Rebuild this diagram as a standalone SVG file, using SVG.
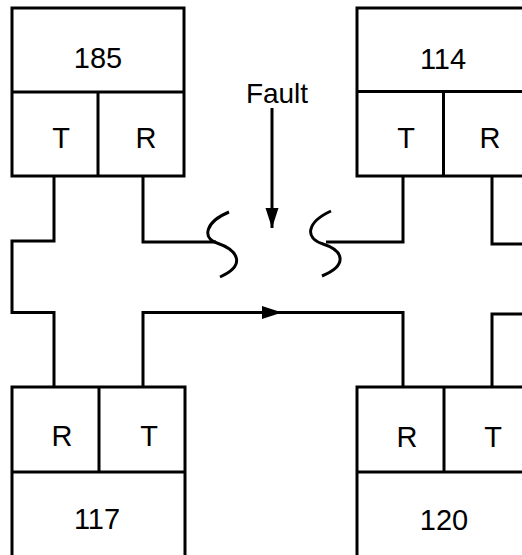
<svg xmlns="http://www.w3.org/2000/svg" width="522" height="555" viewBox="0 0 522 555">
<defs>
<style>
.box{fill:#fff;stroke:#000;stroke-width:3}
.ln{fill:none;stroke:#000;stroke-width:3}
.w{fill:none;stroke:#000;stroke-width:3;stroke-linejoin:miter}
text{font-family:"Liberation Sans",Arial,sans-serif;font-size:29px;fill:#000;text-anchor:middle}
</style>
<marker id="ah" markerUnits="userSpaceOnUse" markerWidth="20" markerHeight="14" refX="20" refY="7" orient="auto">
<path d="M0,0.5 L20,7 L0,13.5 Z" fill="#000"/>
</marker>
</defs>
<rect width="522" height="555" fill="#fff"/>
<g id="connectors">
<path class="w" d="M54,176 V241 H12 V312.5 H54 V387"/>
<path class="w" d="M143,176 V242 H216"/>
<path class="w" d="M403,176 V242 H326"/>
<path class="w" d="M492,176 V244 H524"/>
<path class="w" d="M143,387 V312.5 H403 V387"/>
<path class="w" d="M492,387 V314 H524"/>
<path class="ln" d="M262,312.5 L282,312.5" marker-end="url(#ah)"/>
<path class="ln" d="M229,212 C205,222 202,238 217,243 C240,251 245,266 220,277"/>
<path class="ln" d="M331,211 C307,222 304,238 323,244 C345,251 347,266 322,276"/>
</g>
<g id="fault">
<text x="277" y="103" style="font-size:28px">Fault</text>
<path class="ln" d="M272,108 L272,228" marker-end="url(#ah)"/>
</g>
<g id="node185">
<rect class="box" x="12" y="8" width="172" height="168"/>
<path class="ln" d="M12,92 H184 M98,92 V176"/>
<text x="98" y="68">185</text>
<text x="61" y="148">T</text>
<text x="146" y="148">R</text>
</g>
<g id="node114">
<rect class="box" x="357" y="8" width="200" height="168"/>
<path class="ln" d="M357,91.5 H557 M443.5,91.5 V176"/>
<text x="443" y="69">114</text>
<text x="406" y="148">T</text>
<text x="490" y="148">R</text>
</g>
<g id="node117">
<rect class="box" x="12" y="387" width="173" height="200"/>
<path class="ln" d="M12,472 H185 M99,387 V472"/>
<text x="62" y="446">R</text>
<text x="149" y="446">T</text>
<text x="97" y="529">117</text>
</g>
<g id="node120">
<rect class="box" x="357" y="387" width="200" height="200"/>
<path class="ln" d="M357,472 H557 M444,387 V472"/>
<text x="407" y="447">R</text>
<text x="493" y="447">T</text>
<text x="444" y="530">120</text>
</g>
</svg>
